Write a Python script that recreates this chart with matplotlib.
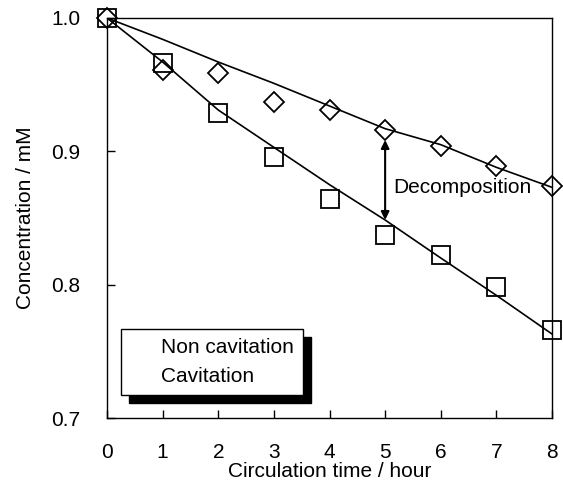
import matplotlib
matplotlib.use("Agg")
import matplotlib.pyplot as plt

plt.rcParams['font.family'] = ['Liberation Sans', 'DejaVu Sans']

# measured points
hours = [0, 1, 2, 3, 4, 5, 6, 7, 8]
non_cav = [1.0, 0.961, 0.959, 0.937, 0.931, 0.916, 0.904, 0.889, 0.874]
cav = [1.0, 0.966, 0.929, 0.896, 0.864, 0.837, 0.822, 0.798, 0.766]

# hand-drawn trend curves
non_cav_curve = [1.0, 0.984, 0.967, 0.951, 0.934, 0.917, 0.905, 0.888, 0.873]
cav_curve = [1.0, 0.967, 0.931, 0.903, 0.875, 0.8485, 0.82, 0.792, 0.763]

arrow_x = 5
arrow_top = 0.9085
arrow_bottom = 0.8485

fig = plt.figure(figsize=(5.63, 4.86), dpi=100)
ax = fig.add_axes([107/563, 68/486, 445/563, 400/486])

ax.plot(hours, non_cav_curve, color='black', lw=1.2, zorder=2)
ax.plot(hours, cav_curve, color='black', lw=1.2, zorder=2)
ax.plot(hours, non_cav, linestyle='none', marker='D', ms=10.5, mfc='none',
        mec='black', mew=1.3, clip_on=False, label='Non cavitation', zorder=3)
ax.plot(hours, cav, linestyle='none', marker='s', ms=13.5, mfc='none',
        mec='black', mew=1.3, clip_on=False, label='Cavitation', zorder=3)

ax.annotate('', xy=(arrow_x, arrow_top), xytext=(arrow_x, arrow_bottom),
            arrowprops=dict(arrowstyle='<|-|>', color='black', lw=1.5,
                            mutation_scale=12, shrinkA=0, shrinkB=0))
ax.text(5.14, 0.8725, 'Decomposition', fontsize=15, va='center', ha='left')

ax.set_xlim(0, 8)
ax.set_ylim(0.7, 1.0)
ax.set_xticks(hours)
ax.set_yticks([0.7, 0.8, 0.9, 1.0])
ax.set_yticklabels(['0.7', '0.8', '0.9', '1.0'])
ax.tick_params(direction='in', length=6, width=1, labelsize=15)
ax.tick_params(axis='x', pad=18)
ax.tick_params(axis='y', pad=19)
for s in ax.spines.values():
    s.set_linewidth(1)

ax.set_xlabel('Circulation time / hour', fontsize=15, labelpad=0)
ax.set_ylabel('Concentration / mM', fontsize=15, labelpad=12)

leg = ax.legend(loc='lower left', bbox_to_anchor=(0.0315, 0.0575),
                borderaxespad=0, fontsize=15, fancybox=False,
                edgecolor='black', framealpha=1, handlelength=1.0,
                handletextpad=0.5, borderpad=0.43, labelspacing=0.5,
                shadow={'color': 'black', 'alpha': 1, 'ox': 5.8, 'oy': -5.8})
leg.get_frame().set_linewidth(1)
for h in leg.legend_handles:
    h.set_visible(False)

fig.savefig('out.png', dpi=100)
